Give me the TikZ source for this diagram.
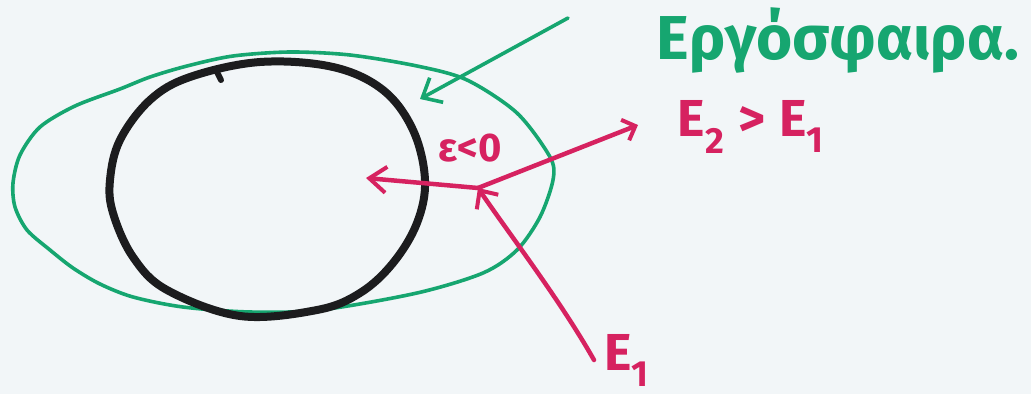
\documentclass[tikz,border=0pt]{standalone}
\usepackage{fontspec}
\setmainfont{Fira Sans}
\usetikzlibrary{arrows.meta}
\definecolor{bg}{RGB}{242,246,248}
\definecolor{ergo}{RGB}{22,166,112}
\definecolor{pinkc}{RGB}{214,34,96}
\definecolor{hor}{RGB}{28,28,30}
\tikzset{
  ergoline/.style={draw=ergo, line width=3.6pt, line cap=round, line join=round},
  horline/.style={draw=hor, line width=8pt, line cap=round},
  pinkline/.style={draw=pinkc, line width=4.5pt, line cap=round, line join=round},
  lbl/.style={text=pinkc, inner sep=0pt},
}
\begin{document}
\begin{tikzpicture}[x=1pt, y=-1pt]
\fill[bg] (0,0) rectangle (1031,394);
\useasboundingbox (0,0) rectangle (1031,394);
% ergosphere
\draw[ergoline] plot[smooth cycle, tension=0.5] coordinates {
 (13,183) (15,207) (27,230) (50,250) (73,268) (100,284) (133,297) (183,307) (250,312)
 (320,310) (417,293) (483,273) (517,250) (540,217) (553,180) (550,157) (517,113)
 (467,80) (417,66) (350,55) (290,52) (233,56) (187,66) (150,77) (120,89) (75,106)
 (40,127) (20,155)};
% horizon
\draw[horline] plot[smooth cycle, tension=0.6] coordinates {
 (110,180) (113,213) (133,257) (167,290) (240,316) (317,310) (360,293) (393,263)
 (417,223) (425,180) (413,130) (383,90) (333,67) (260,62) (190,77) (150,100) (120,140)};
\draw[draw=hor, line width=6pt, line cap=round] (216,70) -- (221,80);
% green label and arrow
\node[text=ergo, font=\fontsize{62}{70}\selectfont\bfseries, inner sep=0pt] (ergo) at (838,40) {Εργόσφαιρα.};
\coordinate (gs) at (568,18);
\coordinate (gt) at (420,99);
\draw[ergoline, -{Straight Barb[length=16pt, width=28pt, line width=3.6pt]}] (gs) -- (gt);
% pink particle paths
\coordinate (J) at (478,188);
\coordinate (in) at (594,360);
\coordinate (L) at (366,178);
\coordinate (R) at (638,125);
\draw[pinkline, -{Straight Barb[length=14pt, width=26pt, line width=4pt]}] (in) .. controls (560,300) and (510,235) .. (J);
\draw[pinkline, -{Straight Barb[length=17pt, width=26pt, line width=4pt]}] (J) -- (L);
\draw[pinkline, -{Straight Barb[length=11pt, width=22pt, line width=4pt]}] (J) -- (R);
% labels
\node[lbl, font=\fontsize{40}{44}\selectfont\bfseries] (eps) at (470,148) {ε<0};
\node[lbl, font=\fontsize{52}{58}\selectfont\bfseries] (e21) at (751,127) {E\textsubscript{2}\kern14pt>\kern14pt E\textsubscript{1}};
\node[lbl, font=\fontsize{52}{58}\selectfont\bfseries] (e1) at (627,360) {E\textsubscript{1}};
\end{tikzpicture}
\end{document}
